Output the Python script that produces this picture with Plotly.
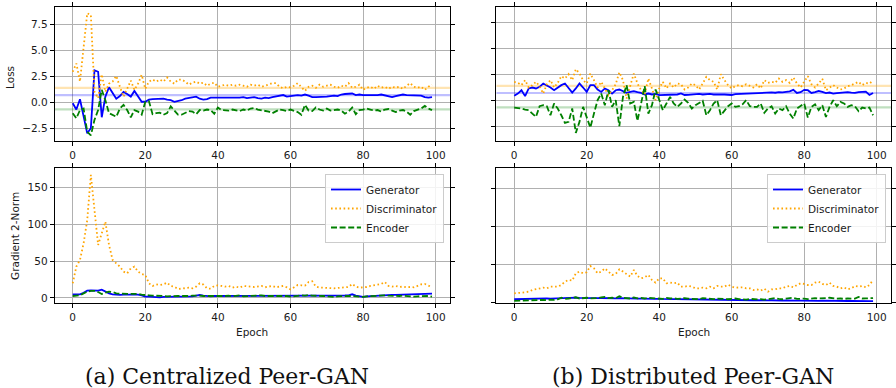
import plotly.graph_objects as go
from plotly.subplots import make_subplots

epochs = list(range(100))

gen_loss_a = [-0.1, -0.7, 0.3, -1.2, -3.0, -2.5, 3.1, 2.95, -1.45, 0.55,
 1.45, 0.9, 0.35, 0.6, 1.0, 0.8, 0.55, 1.1, 0.55, 0.05,
 0.05, 0.25, 0.3, 0.3, 0.3, 0.35, 0.25, 0.2, 0.05, 0.1,
 0.2, 0.35, 0.4, 0.45, 0.55, 0.35, 0.25, 0.3, 0.45, 0.45,
 0.45, 0.4, 0.45, 0.4, 0.45, 0.4, 0.45, 0.5, 0.4, 0.45,
 0.5, 0.4, 0.35, 0.45, 0.4, 0.5, 0.55, 0.6, 0.7, 0.55,
 0.6, 0.65, 0.7, 0.65, 0.75, 0.65, 0.5, 0.5, 0.5, 0.55,
 0.55, 0.6, 0.65, 0.6, 0.75, 0.8, 0.8, 0.85, 0.7, 0.75,
 0.7, 0.7, 0.7, 0.65, 0.7, 0.75, 0.65, 0.55, 0.5, 0.6,
 0.7, 0.75, 0.7, 0.7, 0.7, 0.7, 0.65, 0.5, 0.45, 0.5]

disc_loss_a = [2.95, 3.75, 2.0, 5.0, 8.6, 8.45, 1.0, 0.4, 2.7, 1.0,
 1.8, 2.0, 2.55, 1.5, 0.55, 1.3, 2.1, 1.2, 1.8, 2.65,
 1.3, 2.0, 2.2, 2.0, 2.2, 2.0, 2.4, 2.0, 1.8, 2.2,
 2.2, 2.0, 1.7, 1.9, 2.0, 1.8, 1.9, 1.6, 1.8, 1.9,
 1.5, 1.6, 1.7, 1.6, 1.7, 1.6, 1.7, 1.6, 1.5, 1.7,
 1.6, 1.7, 1.5, 1.6, 1.7, 1.85, 1.85, 1.5, 1.35, 1.5,
 1.45, 1.6, 1.85, 1.5, 1.1, 1.5, 1.6, 1.4, 1.7, 1.5,
 1.6, 1.7, 1.5, 1.4, 1.6, 1.5, 1.85, 1.4, 1.5, 1.7,
 1.2, 1.4, 1.5, 1.3, 1.6, 1.4, 1.5, 1.3, 1.5, 1.4,
 1.5, 1.3, 1.6, 1.85, 1.5, 1.4, 1.5, 1.2, 1.5, 1.7]

enc_loss_a = [-1.05, -1.55, -0.75, -0.6, -2.85, -3.2, -1.7, -0.75, 1.2, 0.2,
 -1.05, -1.2, -1.4, -0.6, -0.25, -0.75, -1.45, -0.75, -0.9, -1.2,
 0.05, 0.1, -1.15, -1.05, -1.0, -1.2, -1.05, -0.4, -0.85, -1.2,
 -1.2, -1.0, -0.85, -0.9, -1.15, -0.75, -0.8, -0.7, -0.75, -1.1,
 -0.5, -0.75, -0.75, -0.8, -0.7, -0.75, -0.85, -0.7, -0.8, -0.6,
 -0.55, -0.7, -0.75, -0.8, -0.9, -1.05, -0.9, -0.7, -0.75, -0.85,
 -0.7, -0.8, -0.95, -1.2, -0.25, -0.8, -0.85, -0.5, -0.7, -0.8,
 -0.6, -0.8, -0.75, -0.7, -0.8, -1.1, -0.9, -0.5, -1.15, -0.75,
 -0.7, -0.6, -0.7, -0.8, -0.75, -0.9, -0.7, -0.65, -0.8, -0.95,
 -0.8, -0.75, -0.9, -1.2, -0.85, -0.75, -0.6, -0.35, -0.6, -0.75]

gen_loss_b = [0.42, 0.64, 0.96, 0.39, 1.13, 1.22, 1.13, 1.29, 1.61, 1.45,
 1.22, 0.96, 1.22, 1.45, 1.61, 1.22, 0.74, 1.13, 1.61, 1.22,
 0.8, 1.45, 1.45, 1.03, 0.8, 1.13, 0.96, 0.64, 0.96, 1.03,
 0.87, 0.71, 0.8, 0.87, 0.77, 0.71, 0.55, 0.64, 0.55, 0.61,
 0.48, 0.5, 0.52, 0.58, 0.55, 0.55, 0.65, 0.5, 0.52, 0.55,
 0.55, 0.6, 0.55, 0.58, 0.6, 0.55, 0.58, 0.55, 0.55, 0.52,
 0.5, 0.58, 0.6, 0.6, 0.62, 0.65, 0.62, 0.68, 0.7, 0.68,
 0.72, 0.75, 0.72, 0.78, 0.75, 0.8, 0.85, 1.0, 0.7, 0.77,
 1.0, 0.96, 0.7, 0.77, 0.9, 0.8, 0.68, 0.74, 0.64, 0.68,
 0.72, 0.75, 0.78, 0.72, 0.7, 0.77, 0.83, 0.83, 0.5, 0.7]

disc_loss_b = [1.77, 1.67, 1.45, 1.93, 1.22, 1.45, 1.77, 1.35, 0.64, 1.54,
 1.93, 1.22, 1.67, 2.32, 2.09, 2.51, 1.93, 2.99, 2.57, 1.93,
 1.61, 2.57, 1.93, 1.22, 1.77, 1.13, 0.48, 0.96, 1.54, 2.7,
 1.93, 0.16, 1.29, 2.57, 1.61, 0.96, 0.55, 2.09, 1.13, 0.0,
 1.13, 1.77, 1.13, 1.61, 1.22, 1.61, 1.54, 1.03, 1.22, 1.61,
 1.45, 1.03, 1.61, 2.25, 1.93, 1.77, 1.03, 2.51, 1.93, 1.45,
 1.13, 1.35, 1.45, 1.35, 1.54, 1.35, 1.22, 1.54, 1.13, 1.93,
 1.67, 1.77, 1.67, 2.09, 1.77, 1.93, 1.67, 2.19, 1.61, 1.22,
 1.77, 2.32, 1.54, 1.22, 1.61, 2.06, 0.96, 1.22, 1.45, 1.22,
 1.03, 1.13, 1.35, 1.45, 1.61, 1.77, 1.45, 1.67, 1.6, 1.9]

enc_loss_b = [-0.71, -0.74, -0.8, -0.9, -0.96, -1.29, -1.61, -0.58, -0.48, -0.58,
 -1.45, -0.32, -0.8, -1.45, -2.19, -2.09, -0.8, -3.15, -2.09, -0.64,
 -1.61, -2.64, -1.29, 0.0, 0.64, -0.48, 0.96, -0.64, 0.0, -2.51,
 0.32, 1.45, -0.32, -0.16, -1.99, -0.16, 1.35, -1.29, -0.48, 1.03,
 0.0, -0.96, -0.32, 0.32, -0.32, -0.64, -0.32, 0.06, -0.26, -0.8,
 -0.48, -0.26, -0.06, -1.45, -0.96, -0.32, 0.0, -1.45, -0.96, -0.58,
 -0.32, -0.64, -0.58, -0.39, 0.0, -0.58, -0.64, -0.64, -0.32, -1.22,
 -0.8, -0.58, -1.29, -0.8, -0.96, -0.58, -1.29, -1.77, -0.8, -0.58,
 -0.32, -1.67, -0.64, -0.39, -0.96, -0.48, -1.61, -0.64, 0.0, -0.58,
 -0.16, -0.32, -0.64, -0.48, -0.58, -1.06, -0.71, -0.8, -0.71, -1.45]

gen_grad_a = [5.0, 5.0, 5.0, 7.0, 10.0, 10.2, 10.2, 10.0, 11.3, 8.6,
 6.3, 5.0, 4.2, 4.2, 4.5, 4.5, 5.0, 5.0, 4.5, 3.6,
 1.8, 1.8, 1.4, 1.4, 0.9, 1.4, 1.4, 1.4, 1.8, 1.8,
 1.8, 1.8, 1.8, 2.3, 3.2, 4.0, 3.2, 2.3, 2.3, 2.7,
 2.7, 2.7, 2.9, 2.7, 2.7, 3.0, 3.2, 2.7, 2.5, 2.7,
 2.9, 3.2, 3.4, 3.0, 2.7, 2.7, 2.9, 3.0, 2.7, 2.9,
 2.7, 2.9, 3.0, 3.2, 3.0, 2.9, 3.2, 3.2, 3.0, 3.2,
 3.0, 3.2, 3.0, 3.2, 3.2, 3.4, 3.6, 5.0, 3.2, 1.8,
 1.4, 2.3, 2.7, 3.2, 3.6, 4.0, 4.3, 4.1, 4.3, 4.3,
 4.5, 4.5, 4.7, 5.0, 4.8, 5.2, 5.0, 5.2, 5.6, 5.9]

disc_grad_a = [19.9, 42.5, 51.5, 74.1, 105.7, 166.7, 119.2, 71.8, 87.6, 103.4,
 71.8, 51.5, 47.0, 42.5, 35.7, 33.4, 40.2, 42.5, 35.7, 32.5,
 31.2, 19.9, 16.3, 18.5, 17.6, 18.5, 20.8, 16.3, 15.4, 12.2,
 12.6, 13.6, 14.0, 13.1, 15.4, 19.9, 18.1, 13.1, 12.6, 16.3,
 17.2, 16.3, 15.4, 16.3, 14.0, 15.4, 14.0, 16.3, 15.4, 15.4,
 14.9, 15.4, 16.3, 14.5, 15.4, 16.3, 14.5, 15.4, 16.3, 14.5,
 11.7, 14.5, 17.6, 17.2, 16.7, 21.7, 22.6, 15.4, 14.0, 14.0,
 13.6, 13.6, 13.1, 13.6, 14.0, 15.4, 14.9, 19.0, 15.4, 14.0,
 14.0, 14.9, 16.3, 16.7, 18.1, 19.0, 21.7, 16.3, 15.4, 16.3,
 14.9, 15.4, 14.5, 14.9, 14.5, 16.3, 18.5, 19.0, 16.3, 14.5]

enc_grad_a = [2.7, 3.2, 3.6, 6.3, 8.6, 9.5, 9.5, 8.1, 5.4, 7.2,
 8.6, 8.1, 6.3, 5.9, 5.9, 6.3, 5.9, 5.9, 5.4, 4.5,
 3.6, 3.6, 3.2, 2.7, 2.7, 2.7, 2.3, 2.7, 3.2, 2.7,
 2.7, 2.3, 2.7, 3.2, 3.6, 3.2, 2.7, 2.3, 2.7, 2.7,
 3.2, 2.7, 2.7, 3.2, 2.3, 2.7, 3.6, 2.3, 2.7, 3.2,
 2.7, 3.2, 3.6, 2.7, 2.7, 3.2, 2.3, 2.7, 3.2, 2.7,
 1.8, 2.7, 3.2, 3.6, 3.2, 4.0, 3.2, 2.7, 2.3, 2.7,
 2.3, 1.8, 1.4, 2.3, 2.7, 3.2, 2.7, 2.7, 2.3, 1.8,
 1.4, 2.3, 2.7, 3.2, 2.7, 3.2, 3.6, 3.2, 2.7, 2.3,
 2.7, 3.2, 2.7, 2.3, 1.8, 2.3, 2.7, 3.2, 2.7, 1.8]

gen_grad_b = [4.0, 4.2, 4.4, 4.2, 4.5, 4.7, 4.5, 4.8, 4.9, 5.1,
 4.9, 5.2, 5.4, 5.5, 5.7, 5.8, 6.0, 6.1, 5.8, 5.6,
 5.7, 5.5, 5.3, 5.5, 5.7, 5.4, 5.3, 5.4, 5.2, 5.4,
 5.1, 5.0, 5.1, 4.9, 4.8, 4.9, 4.6, 4.7, 4.5, 4.6,
 4.4, 4.3, 4.1, 4.3, 4.0, 4.1, 3.9, 4.0, 3.7, 3.8,
 3.5, 3.7, 3.4, 3.6, 3.3, 3.5, 3.2, 3.4, 3.1, 3.3,
 3.0, 3.1, 2.9, 3.1, 2.8, 2.9, 2.7, 2.9, 2.6, 2.8,
 2.5, 2.7, 2.4, 2.6, 2.3, 2.5, 2.2, 2.4, 2.2, 2.3,
 2.1, 2.2, 2.0, 2.1, 1.9, 2.1, 1.9, 2.0, 1.8, 1.9,
 1.8, 1.8, 1.7, 1.8, 1.6, 1.7, 1.6, 1.7, 1.5, 1.6]

disc_grad_b = [11.8, 11.8, 12.7, 13.2, 14.0, 16.2, 17.1, 18.4, 19.3, 18.4,
 20.6, 20.6, 20.6, 22.8, 27.2, 29.4, 28.5, 38.2, 40.4, 38.2,
 39.5, 47.8, 44.7, 38.2, 40.4, 44.7, 40.4, 36.0, 37.3, 43.4,
 40.4, 36.8, 33.8, 42.5, 34.6, 31.6, 32.9, 36.0, 29.4, 25.9,
 31.6, 31.6, 25.0, 25.9, 25.0, 25.9, 20.6, 20.6, 21.5, 20.6,
 18.4, 18.4, 19.3, 18.4, 20.6, 18.4, 21.5, 20.6, 20.6, 23.2,
 20.6, 19.3, 19.3, 19.7, 18.4, 18.4, 16.2, 17.1, 15.4, 18.0,
 14.0, 17.1, 17.1, 18.4, 18.4, 20.6, 21.5, 19.7, 22.8, 25.0,
 24.1, 22.8, 22.8, 25.9, 27.2, 24.1, 22.8, 25.9, 21.5, 20.6,
 18.4, 19.7, 17.1, 18.4, 21.5, 20.6, 21.5, 19.7, 22.8, 29.4]

enc_grad_b = [2.0, 2.2, 2.5, 2.3, 2.8, 2.5, 3.0, 2.6, 3.2, 2.8,
 3.5, 3.2, 4.0, 6.0, 4.5, 5.0, 5.5, 6.6, 5.0, 5.5,
 6.0, 5.2, 5.0, 5.5, 6.5, 7.0, 5.5, 6.0, 5.5, 7.9,
 6.0, 5.5, 5.0, 6.5, 5.2, 5.8, 5.0, 6.0, 5.5, 4.8,
 5.2, 4.5, 5.8, 5.0, 5.5, 4.5, 5.0, 5.5, 4.8, 4.5,
 5.0, 4.2, 5.5, 4.8, 4.5, 4.2, 5.0, 4.5, 4.8, 4.0,
 4.5, 5.0, 4.2, 4.0, 3.5, 4.5, 4.0, 3.8, 4.2, 3.5,
 4.0, 4.5, 5.5, 4.5, 4.0, 4.8, 5.2, 6.0, 4.5, 5.0,
 4.8, 4.2, 5.0, 5.5, 5.0, 4.8, 5.5, 6.0, 5.2, 4.8,
 5.0, 4.5, 5.0, 5.2, 4.8, 7.0, 5.0, 5.2, 5.5, 5.5]

series_names = ["Generator", "Discriminator", "Encoder"]
series_colors = ["#0000ff", "#ffa500", "#008000"]
series_faint = ["rgba(0,0,255,0.25)", "rgba(255,165,0,0.3)", "rgba(0,128,0,0.25)"]
series_dash = ["solid", "1.6px,2.6px", "6px,2.6px"]
series_width = [1.8, 1.8, 1.8]
ref_levels = [0.693, 1.386, -0.693]   # log 2, 2 log 2, -log 2

loss_ticks = [-2.5, 0.0, 2.5, 5.0, 7.5]
loss_ticktext = ["\u22122.5", "0.0", "2.5", "5.0", "7.5"]
grad_ticks = [0, 50, 100, 150]
grad_ticktext = ["0", "50", "100", "150"]
x_ticks = [0, 20, 40, 60, 80, 100]
x_range = [-4.95, 103.95]

panels = [
    (1, 1, [gen_loss_a, disc_loss_a, enc_loss_a], None, True),
    (1, 2, [gen_loss_b, disc_loss_b, enc_loss_b], None, True),
    (2, 1, [gen_grad_a, disc_grad_a, enc_grad_a], "legend", False),
    (2, 2, [gen_grad_b, disc_grad_b, enc_grad_b], "legend2", False),
]

W, H = 896, 388
fig = make_subplots(rows=2, cols=2)

for row, col, data, leg, with_refs in panels:
    if with_refs:
        # equilibrium reference lines (axhline across the full axis)
        for i in range(3):
            fig.add_trace(go.Scatter(
                x=x_range, y=[ref_levels[i], ref_levels[i]], mode="lines",
                line=dict(color=series_faint[i], width=2.2),
                showlegend=False, hoverinfo="skip"), row=row, col=col)
    for i, ys in enumerate(data):
        fig.add_trace(go.Scatter(
            x=epochs, y=ys, mode="lines", name=series_names[i],
            line=dict(color=series_colors[i], width=series_width[i], dash=series_dash[i]),
            showlegend=leg is not None, legend=leg if leg else "legend",
        ), row=row, col=col)

font = dict(family="DejaVu Sans", size=10.5, color="#1a1a1a")
axis_common = dict(showline=True, linecolor="black", linewidth=1, mirror="ticks",
                   ticks="outside", ticklen=4, tickwidth=1, tickcolor="black",
                   showgrid=True, gridcolor="#b0b0b0", gridwidth=1, zeroline=False,
                   tickfont=font)

def px_x(a, b):
    return [a / W, b / W]

def px_y(top, bottom):
    return [1 - bottom / H, 1 - top / H]

x_left = px_x(55, 452)
x_right = px_x(498.5, 895)
y_top = px_y(7.3, 141.3)
y_bot = px_y(168.3, 303.3)

fig.update_layout(
    xaxis=dict(domain=x_left, range=x_range, tickvals=x_ticks, **axis_common),
    xaxis2=dict(domain=x_right, range=x_range, tickvals=x_ticks, **axis_common),
    xaxis3=dict(domain=x_left, range=x_range, tickvals=x_ticks, **axis_common),
    xaxis4=dict(domain=x_right, range=x_range, tickvals=x_ticks, **axis_common),
    yaxis=dict(domain=y_top, range=[-3.77, 9.18], tickvals=loss_ticks, ticktext=loss_ticktext, **axis_common),
    yaxis2=dict(domain=y_top, range=[-3.96, 8.95], tickvals=loss_ticks, showticklabels=False, **axis_common),
    yaxis3=dict(domain=y_bot, range=[-7.2, 175.7], tickvals=grad_ticks, ticktext=grad_ticktext, **axis_common),
    yaxis4=dict(domain=y_bot, range=[-1.3, 176.3], tickvals=grad_ticks, showticklabels=False, **axis_common),
)

legend_common = dict(bgcolor="rgba(255,255,255,0.85)", bordercolor="#cccccc", borderwidth=1,
                     font=dict(family="DejaVu Sans", size=10.5, color="#1a1a1a"),
                     xanchor="right", yanchor="top", itemwidth=30, tracegroupgap=0)
fig.update_layout(
    legend=dict(x=446 / W, y=1 - 174 / H, **legend_common),
    legend2=dict(x=890 / W, y=1 - 174 / H, **legend_common),
)

annotations = [
    dict(text="Loss", x=10 / W, y=1 - 77 / H, textangle=-90),
    dict(text="Gradient 2-Norm", x=15 / W, y=1 - 236 / H, textangle=-90),
    dict(text="Epoch", x=253 / W, y=1 - 331.5 / H),
    dict(text="Epoch", x=697 / W, y=1 - 331.5 / H),
]
for a in annotations:
    fig.add_annotation(xref="paper", yref="paper", showarrow=False,
                       xanchor="center", yanchor="middle", font=font, **a)

cap_font = dict(family="DejaVu Serif", size=22, color="#111111")
fig.add_annotation(text="(a) Centralized Peer-GAN", x=228 / W, y=1 - 376 / H, xref="paper", yref="paper",
                   showarrow=False, xanchor="center", yanchor="middle", font=cap_font)
fig.add_annotation(text="(b) Distributed Peer-GAN", x=696 / W, y=1 - 376 / H, xref="paper", yref="paper",
                   showarrow=False, xanchor="center", yanchor="middle", font=cap_font)

fig.update_layout(width=W, height=H, margin=dict(l=0, r=0, t=0, b=0),
                  paper_bgcolor="white", plot_bgcolor="white", font=font)

fig.write_html("out.html")
